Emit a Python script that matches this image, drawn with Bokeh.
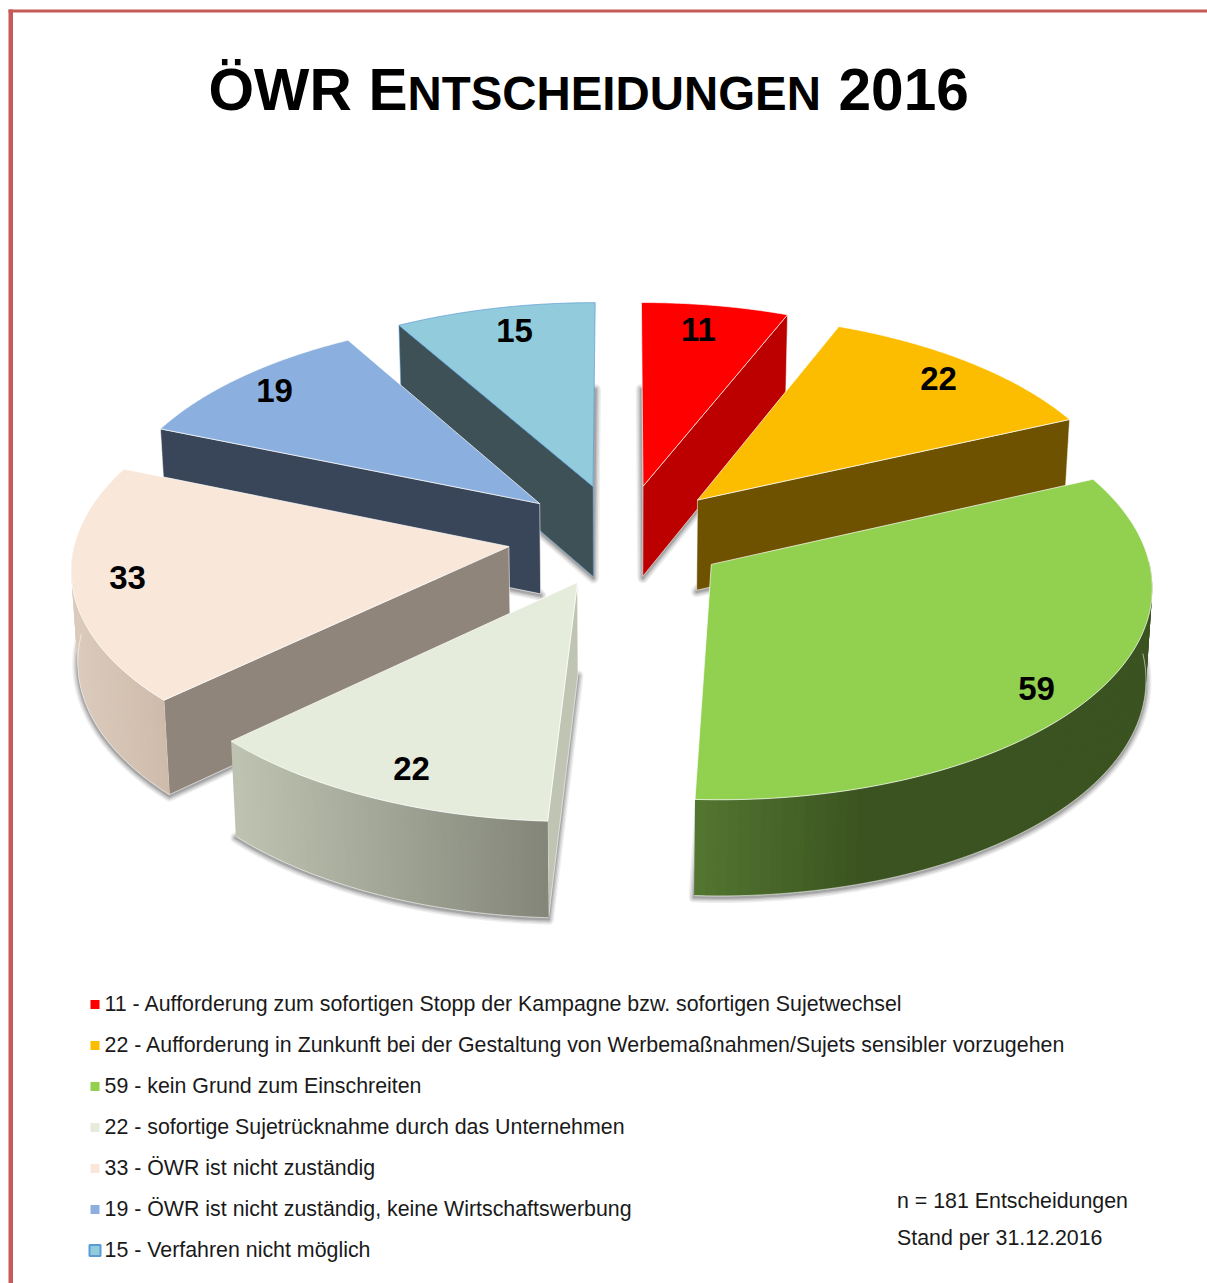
import numpy as np
from bokeh.plotting import figure
from bokeh.models import Range1d
from bokeh.core.properties import value
from bokeh.embed import file_html
from bokeh.resources import INLINE

# ---- data ----
values = [11, 22, 59, 22, 33, 19, 15]
labels = [
    "Aufforderung zum sofortigen Stopp der Kampagne bzw. sofortigen Sujetwechsel",
    "Aufforderung in Zunkunft bei der Gestaltung von Werbemaßnahmen/Sujets sensibler vorzugehen",
    "kein Grund zum Einschreiten",
    "sofortige Sujetrücknahme durch das Unternehmen",
    "ÖWR ist nicht zuständig",
    "ÖWR ist nicht zuständig, keine Wirtschaftswerbung",
    "Verfahren nicht möglich",
]
top_colors = ["#FF0000", "#FCBD00", "#92D050", "#E6ECDC", "#F9E7DA", "#8BB0DF", "#92CBDB"]
face_colors = ["#BC0000", "#6E5200", "#3B5320", "#C0C4B2", "#8F857B", "#39465A", "#3D5157"]
wall_from = ["#BC0000", "#6E5200", "#527530", "#BEC3B1", "#DBCBBC", "#39465A", "#3D5157"]
wall_to = ["#BC0000", "#6E5200", "#3B5320", "#828578", "#CDB9A9", "#39465A", "#3D5157"]
wall_x = [(0, 1), (0, 1), (695, 860), (234, 548), (75, 170), (0, 1), (0, 1)]
edge_colors = ["#FFFFFF"] * 6 + ["#5B9BD5"]
title_parts = [("ÖWR", 208, 58.6), ("E", 368, 58.6), ("NTSCHEIDUNGEN", 407, 47.4), ("2016", 838, 58.6)]
notes = ["n = 181 Entscheidungen", "Stand per 31.12.2016"]
label_pos = [(698, 329), (938, 378), (1036, 688), (411, 768), (127, 577), (274, 390), (514, 330)]
explode = [105, 105, 105, 105, 114, 105, 105]
nudge = [(3, 0.5), (5.5, 1.5), (3, 1), (2, 1), (1, 2), (-3, 2), (-1, 0)]

# ---- projection ----
CX, CY, R, K, P, DEPTH = 620.0, 534.0, 433.0, 0.482, 0.09, 91.0
draw_order = [6, 0, 5, 1, 4, 2, 3]
FONT = value("Liberation Sans")
BASE = 0.35  # offset of the alphabetic baseline as rendered, in em


def project(gx, gy, i, low=False):
    gx, gy = np.asarray(gx, float), np.asarray(gy, float)
    s = 1 / (1 + P * gy)
    sx = CX + R * gx * s
    sy = CY - K * R * gy * s
    if low:
        sy = sy + DEPTH * (1 - 0.05 * gy)
        sx = CX + (sx - CX) * 0.988
    return sx + nudge[i][0], sy + nudge[i][1]


def hex2rgb(c):
    return np.array([int(c[i:i + 2], 16) for i in (1, 3, 5)], float)


def mix(c0, c1, t):
    v = hex2rgb(c0) * (1 - t) + hex2rgb(c1) * t
    return "#%02X%02X%02X" % tuple(int(round(a)) for a in v)


p = figure(width=1207, height=1283, x_range=Range1d(0, 1207), y_range=Range1d(1283, 0),
           x_axis_type=None, y_axis_type=None, toolbar_location=None, output_backend="svg",
           min_border=0, outline_line_color=None, background_fill_color="#FFFFFF")
p.grid.visible = False

# frame
p.quad(left=[8], right=[12.5], top=[9], bottom=[1283], fill_color="#C55A57", line_color=None)
p.quad(left=[8], right=[1207], top=[9], bottom=[12], fill_color="#C55A57", line_color=None)

total = sum(values)
edges = np.cumsum([0] + values) / total * 2 * np.pi


def slice_geom(i):
    a0, a1 = edges[i], edges[i + 1]
    m = (a0 + a1) / 2
    ox, oy = explode[i] / R * np.sin(m), explode[i] / R * np.cos(m)
    th = np.linspace(a0, a1, 90)
    return ox, oy, th, ox + np.sin(th), oy + np.cos(th)


for i in draw_order:
    ox, oy, th, gx, gy = slice_geom(i)
    tx, ty = project(gx, gy, i)
    bx, by = project(gx, gy, i, True)
    ax, ay = project(ox, oy, i)
    abx, aby = project(ox, oy, i, True)
    # soft shadow around the lower outline
    sx = np.r_[abx, bx]
    sy = np.r_[aby, by] + 1.5
    for w, al in [(11, 0.10), (8, 0.14), (5, 0.18), (2.5, 0.25)]:
        p.patch(sx, sy, fill_color="#555555", fill_alpha=0.0, line_color="#555555", line_alpha=al,
                line_width=w, line_join="round")
    # radial faces that look towards the viewer
    if np.sin(edges[i]) < -1e-6:
        k = 0
    elif np.sin(edges[i + 1]) > 1e-6:
        k = -1
    else:
        k = None
    if k is not None:
        p.patch([ax, tx[k], bx[k], abx], [ay, ty[k], by[k], aby], fill_color=face_colors[i],
                line_color=edge_colors[i], line_alpha=0.55, line_width=1)
    # outer wall, only where it faces the viewer, in overlapping strips
    front = np.where(np.cos(th) <= 0.03)[0]
    if len(front) > 2:
        x0, x1 = wall_x[i]
        xs, ys, cs = [], [], []
        order = front if tx[front[0]] < tx[front[-1]] else front[::-1]
        for a, b in zip(order[:-1], order[np.minimum(np.arange(2, len(order) + 1), len(order) - 1)]):
            t = float(np.clip((tx[a] - x0) / (x1 - x0), 0, 1))
            xs.append([tx[a], tx[b], bx[b], bx[a]])
            ys.append([ty[a], ty[b], by[b], by[a]])
            cs.append(mix(wall_from[i], wall_to[i], t))
        p.patches(xs, ys, fill_color=cs, line_color=None)
        p.line(bx[front], by[front], line_color=edge_colors[i], line_alpha=0.55, line_width=1)
    # top
    p.patch(np.r_[ax, tx], np.r_[ay, ty], fill_color=top_colors[i], line_color=edge_colors[i],
            line_alpha=0.7, line_width=1)


def text_at(x, y, txt, size, bold=False, align="left", color="#000000"):
    """y is the wanted alphabetic baseline on the page."""
    p.text([x], [y - BASE * size], text=[txt], text_font=FONT,
           text_font_style="bold" if bold else "normal", text_font_size=f"{size}px",
           text_align=align, text_baseline="alphabetic", text_color=color)


# data labels
for v, (x, y) in zip(values, label_pos):
    text_at(x, y + 12, str(v), 33, bold=True, align="center")

# title
for txt, x, size in title_parts:
    text_at(x, 110, txt, size, bold=True)

# legend
for i, (v, lab) in enumerate(zip(values, labels)):
    y = 1004 + 41 * i
    if i < 6:
        p.quad(left=[90], right=[99], top=[y - 4.5], bottom=[y + 4.5], fill_color=top_colors[i], line_color=None)
    else:
        p.quad(left=[89], right=[100], top=[y - 5.5], bottom=[y + 5.5], fill_color=top_colors[i],
               line_color="#5B9BD5", line_width=2)
    text_at(104, y + 6.5, f"{v} - {lab}", 21.37, color="#1A1A1A")

for j, note in enumerate(notes):
    text_at(896.5, 1207.5 + 37 * j, note, 21.37, color="#1A1A1A")

open("out.html", "w").write(file_html(p, INLINE))
